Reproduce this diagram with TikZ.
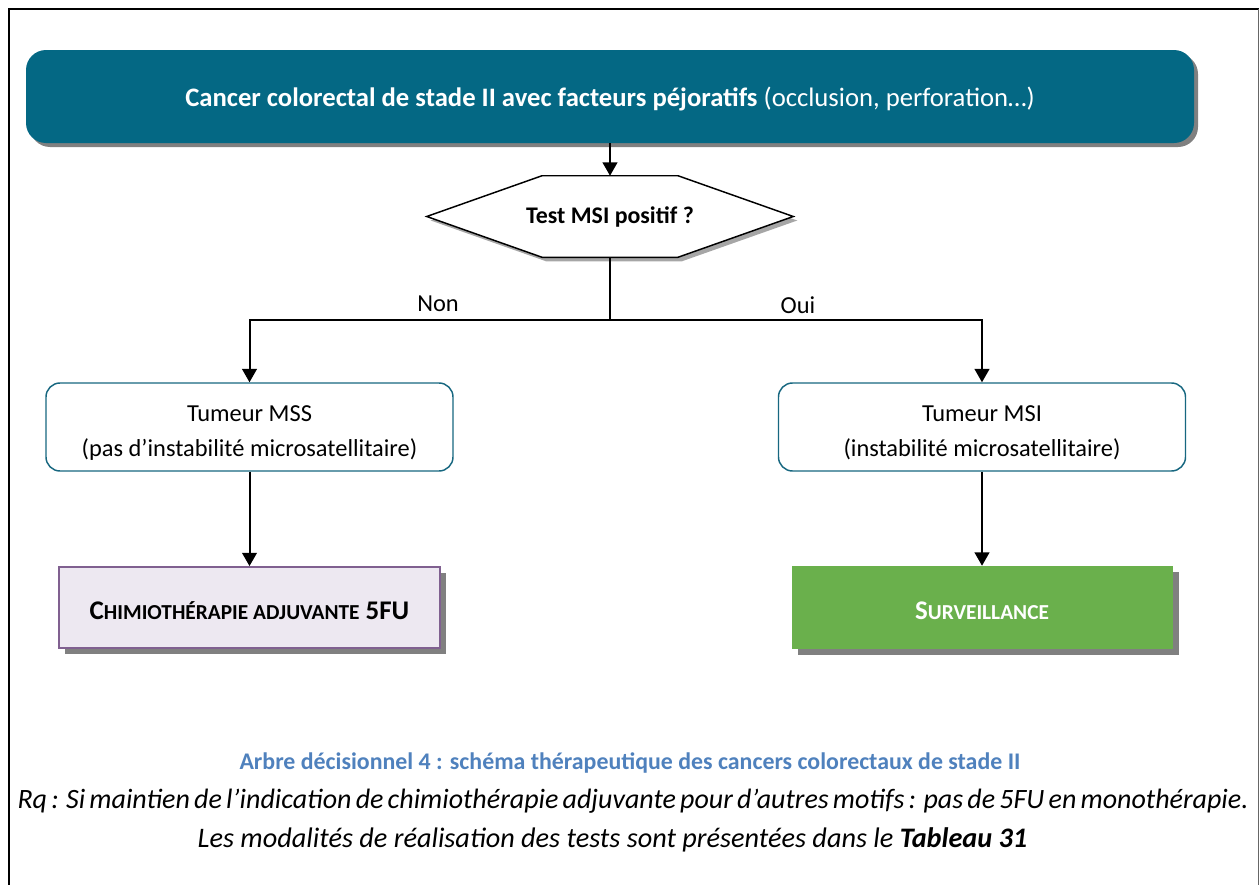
\documentclass[tikz,border=0pt]{standalone}
\usepackage{fontspec}
\setmainfont{Carlito}
\usetikzlibrary{arrows.meta,shadows,calc,backgrounds}
\definecolor{headfill}{RGB}{4,104,132}
\definecolor{boxline}{RGB}{23,103,128}
\definecolor{lavfill}{RGB}{237,232,241}
\definecolor{lavline}{RGB}{128,96,144}
\definecolor{greenfill}{RGB}{106,176,76}
\definecolor{shadowgrey}{RGB}{128,128,128}
\definecolor{captionblue}{RGB}{79,129,189}
% small capitals built from two sizes of the upright bold face
\newcommand\lowcaps[1]{{\fontsize{16}{19}\selectfont #1}}
% set a line a little lower without changing the size of its box
\newcommand\lowered[2]{\raisebox{-#1}[\height][\depth]{#2}}
\begin{document}
\begin{tikzpicture}[x=0.75pt,y=-0.75pt,
  conn/.style={line width=1.5pt,black},
  arr/.style={conn,-{Triangle[length=10pt,width=11pt]}},
  dropsh/.style={drop shadow={shadow xshift=#1,shadow yshift=-#1,opacity=1,fill=shadowgrey}},
  txt/.style={font=\fontsize{18.3}{26}\selectfont,align=center},
  headbox/.style={font=\fontsize{20}{24}\selectfont,fill=headfill,text=white,rounded corners=15pt,
    minimum width=876pt,minimum height=69.75pt,dropsh=3pt},
  tumbox/.style={txt,draw=boxline,line width=1.1pt,fill=white,rounded corners=10.5pt,
    minimum width=305.25pt,minimum height=66pt},
  actbox/.style={font=\fontsize{20.2}{24}\selectfont,minimum width=285.75pt,minimum height=61pt,dropsh=4.5pt}]
\useasboundingbox (0,0) rectangle (1260,885);

% outer frame, open at the bottom
\draw[line width=1.5pt] (9,890) -- (9,9) -- (1258.5,9);
\draw[line width=1.2pt,black!60] (1258.5,9) -- (1258.5,890);

% header
\node[headbox] (head) at (610,96.5)
  {\lowered{1.5pt}{\textbf{Cancer colorectal de stade II avec facteurs péjoratifs} (occlusion, perforation…)}};

% decision hexagon
\node[font=\fontsize{17.9}{22}\selectfont,inner sep=0pt,minimum width=274.5pt,minimum height=60.75pt] (test) at (610,216.5)
  {\textbf{Test MSI positif ?}};
\begin{scope}[on background layer]
  \draw[line width=1.1pt,fill=white,drop shadow={shadow xshift=3pt,shadow yshift=-3pt,opacity=1,fill=black!35}]
    (test.west) -- ($(test.north)+(-68,0)$) -- ($(test.north)+(68,0)$) -- (test.east)
    -- ($(test.south)+(68,0)$) -- ($(test.south)+(-68,0)$) -- cycle;
\end{scope}

% tumour types
\node[tumbox] (mss) at (249.5,427)
  {\lowered{4.5pt}{Tumeur MSS}\\\lowered{4.5pt}{(pas d’instabilité microsatellitaire)}};
\node[tumbox] (msi) at (982,427)
  {\lowered{4.5pt}{Tumeur MSI}\\\lowered{4.5pt}{(instabilité microsatellitaire)}};

% treatments
\node[actbox,fill=lavfill,draw=lavline,line width=1.1pt] (chimio) at (249.5,607.5)
  {\lowered{2.5pt}{\textbf{C\lowcaps{HIMIOTHÉRAPIE ADJUVANTE} 5FU}}};
\node[actbox,fill=greenfill,text=white,minimum height=62.25pt] (surv) at (982,607.5)
  {\lowered{2.5pt}{\textbf{S\lowcaps{URVEILLANCE}}}};

% connectors
\coordinate (split) at (610,320);
\draw[arr] (head.south) -- (test.north);
\draw[conn] (test.south) -- (split);
\draw[arr] (split) -| (mss.north);
\draw[arr] (split) -| (msi.north);
\draw[arr] (mss.south) -- (chimio.north);
\draw[arr] (msi.south) -- (surv.north);

\node[txt] (non) at (438,304) {Non};
\node[txt] (oui) at (798,305) {Oui};

% caption
\node[font=\fontsize{17.9}{21}\selectfont\bfseries,text=captionblue] (cap) at (630,763)
  {Arbre décisionnel 4 : schéma thérapeutique des cancers colorectaux de stade II};
\node[font=\fontsize{21}{25}\selectfont\itshape,inner xsep=0pt] (rq) at (631.5,801)
  {\makebox[921pt][s]{Rq : Si maintien de l’indication de chimiothérapie adjuvante pour d’autres motifs : pas de 5FU en monothérapie.}};
\node[font=\fontsize{21.2}{25}\selectfont\itshape] (tab) at (612.5,840)
  {Les modalités de réalisation des tests sont présentées dans le \textbf{Tableau 31}};
\end{tikzpicture}
\end{document}
